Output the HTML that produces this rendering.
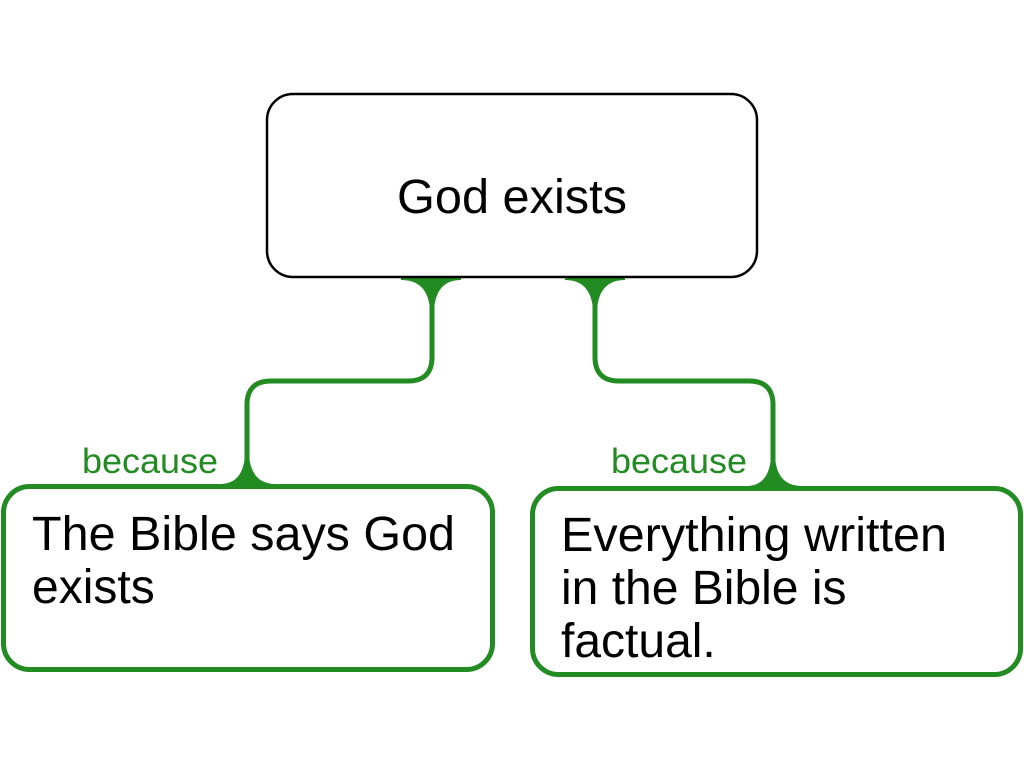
<!DOCTYPE html>
<html><head><style>
html,body{margin:0;padding:0;background:#fff;width:1024px;height:768px;overflow:hidden}
svg text{font-family:"Liberation Sans",Arial,sans-serif}
</style></head><body>
<svg width="1024" height="768" viewBox="0 0 1024 768" xmlns="http://www.w3.org/2000/svg">
<g fill="none" stroke="#228B22" stroke-width="5">
<path d="M432 280 V357 Q432 381 408 381 H271 Q247 381 247 405 V486"/>
<path d="M595 280 V357 Q595 381 619 381 H749 Q773 381 773 405 V488"/>
</g>
<g fill="#228B22">
<path d="M401 276 L401 280 Q428 280 430 310 L434 310 Q436 280 461 280 L461 276 Z"/>
<path d="M565 276 L565 280 Q591 280 593 310 L597 310 Q599 280 625 280 L625 276 Z"/>
<path d="M220 488 L220 484 Q243 484 245 455 L249 455 Q251 484 276 484 L276 488 Z"/>
<path d="M746 490 L746 486 Q769 486 771 457 L775 457 Q777 486 802 486 L802 490 Z"/>
</g>
<rect x="267" y="94" width="490" height="183" rx="26" fill="#fff" stroke="#000" stroke-width="2.5"/>
<rect x="3.5" y="486.5" width="489" height="183" rx="26" fill="#fff" stroke="#228B22" stroke-width="5"/>
<rect x="532.5" y="488.5" width="488" height="186" rx="26" fill="#fff" stroke="#228B22" stroke-width="5"/>
<text x="512" y="213" font-size="48" text-anchor="middle" fill="#000" textLength="230" lengthAdjust="spacingAndGlyphs">God exists</text>
<text x="82" y="473" font-size="35" fill="#228B22" textLength="136" lengthAdjust="spacingAndGlyphs">because</text>
<text x="611" y="473" font-size="35" fill="#228B22" textLength="136" lengthAdjust="spacingAndGlyphs">because</text>
<text font-size="48" fill="#000"><tspan x="32" y="550" textLength="423" lengthAdjust="spacingAndGlyphs">The Bible says God</tspan><tspan x="32" y="603">exists</tspan></text>
<text font-size="48" fill="#000"><tspan x="561" y="551" textLength="386" lengthAdjust="spacingAndGlyphs">Everything written</tspan><tspan x="561" y="604">in the Bible is</tspan><tspan x="561" y="657">factual.</tspan></text>
</svg>
</body></html>
